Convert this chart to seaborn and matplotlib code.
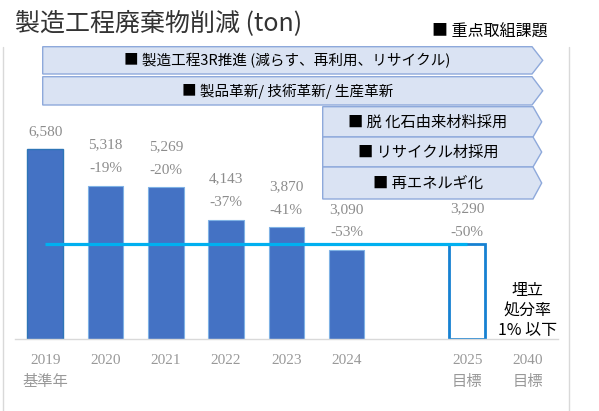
import matplotlib
matplotlib.use('Agg')
import matplotlib.pyplot as plt
import seaborn as sns
import pandas as pd
import numpy as np
from matplotlib.patches import Polygon
from matplotlib.lines import Line2D

sns.set_theme(style='white')
plt.rcParams['font.family'] = ['Noto Sans CJK JP', 'DejaVu Sans']

# ---------------- data ----------------
categories = ['2019\n基準年', '2020', '2021', '2022', '2023', '2024', ' ', '2025\n目標', '2040\n目標']
values = [6580, 5318, 5269, 4143, 3870, 3090, np.nan, 3290, np.nan]
pct_labels = ['', '-19%', '-20%', '-37%', '-41%', '-53%', '', '-50%', '']
base_category = '2019\n基準年'
target_category = '2025\n目標'
note_category = '2040\n目標'
target_value = 3290
title = '製造工程廃棄物削減 (ton)'
legend_label = '■ 重点取組課題'
banner_wide = ['■ 製造工程3R推進 (減らす、再利用、リサイクル)', '■ 製品革新/ 技術革新/ 生産革新']
banner_narrow = ['■ 脱 化石由来材料採用', '■ リサイクル材採用', '■ 再エネルギ化']
note_2040 = '埋立\n処分率\n1% 以下'

# ---------------- figure ----------------
W, H = 599, 411
fig = plt.figure(figsize=(W / 100, H / 100), dpi=100)
fig.patch.set_facecolor('white')


def fx(x):
    return x / W


def fy(y):
    return 1 - y / H


PX_PER_UNIT = 0.0289
ax_bottom_px, ax_top_px = 339.3, 47
ax = fig.add_axes([fx(15), fy(ax_bottom_px), (557.7 - 15) / W, (ax_bottom_px - ax_top_px) / H])
ax.set_facecolor('none')

df = pd.DataFrame({'cat': categories, 'val': values}).dropna()
sns.barplot(data=df, x='cat', y='val', order=categories, color='#4472C4',
            saturation=1, width=0.59, errorbar=None, ax=ax, zorder=2)

ax.set_xlim(-0.5, len(categories) - 0.5)
ax.set_ylim(0, (ax_bottom_px - ax_top_px) / PX_PER_UNIT)

serif = ['Liberation Serif', 'Noto Sans CJK JP']
i_target = categories.index(target_category)
for p in ax.patches:
    xc = p.get_x() + p.get_width() / 2
    if abs(xc - i_target) < 0.3:
        p.set_facecolor('white')
        p.set_edgecolor('#1681D2')
        p.set_linewidth(2)
    elif abs(xc - 0) < 0.3:
        p.set_edgecolor('#2E75B6')
        p.set_linewidth(1)
    else:
        p.set_edgecolor('#7FB2E5')
        p.set_linewidth(0.8)

# target line
i_base = categories.index(base_category)
ax.plot([i_base, i_target], [target_value, target_value], color='#00B0F0', lw=2.3,
        solid_capstyle='butt', zorder=3)

# value labels
for i, (v, pct) in enumerate(zip(values, pct_labels)):
    if np.isnan(v):
        continue
    shift = -5 if categories[i] == target_category else 0
    if pct:
        ax.annotate(pct, (i, v), xytext=(0, 17 + shift), textcoords='offset pixels',
                    ha='center', va='center', fontsize=11, color='#8C8C8C',
                    family=serif, zorder=4)
        ax.annotate(f'{v:,.0f}', (i, v), xytext=(0, 40.5 + shift), textcoords='offset pixels',
                    ha='center', va='center', fontsize=11, color='#8C8C8C',
                    family=serif, zorder=4)
    else:
        ax.annotate(f'{v:,.0f}', (i, v), xytext=(0, 17), textcoords='offset pixels',
                    ha='center', va='center', fontsize=11, color='#8C8C8C',
                    family=serif, zorder=4)

# 2040 note
ax.text(categories.index(note_category), 990, note_2040, ha='center', va='center',
        fontsize=11.5, linespacing=1.25, color='black')

# axes styling
ax.set_xticks(range(len(categories)))
ax.set_xticklabels(categories, family=serif, fontsize=11, color='#999999', linespacing=1.75)
ax.tick_params(axis='x', length=0, pad=10.5)
ax.set_yticks([])
ax.set_xlabel('')
ax.set_ylabel('')
for s in ['top', 'left', 'right']:
    ax.spines[s].set_visible(False)
ax.spines['bottom'].set_color('#D9D9D9')
ax.spines['bottom'].set_linewidth(1)

# frame lines
for xpix in (3.3, 569):
    fig.add_artist(Line2D([fx(xpix)] * 2, [fy(47), fy(411)], color='#D9D9D9', lw=1,
                          transform=fig.transFigure))


def banner(x0, x1, tip, y0, y1, text, size):
    pts = [(x0, y0), (x1, y0), (tip, (y0 + y1) / 2), (x1, y1), (x0, y1)]
    poly = Polygon([(fx(x), fy(y)) for x, y in pts], closed=True, transform=fig.transFigure,
                   facecolor='#DAE3F3', edgecolor='#8EA9DB', lw=1, zorder=5)
    fig.add_artist(poly)
    fig.text(fx((x0 + x1) / 2), fy((y0 + y1) / 2), text, ha='center', va='center',
             fontsize=size, color='black', zorder=6)


wide_rows = [(46.7, 74), (76.7, 105)]
for (y0, y1), t in zip(wide_rows, banner_wide):
    banner(42.7, 532, 542.7, y0, y1, t, 10.5)
narrow_rows = [(106.7, 137), (137, 167), (167, 199)]
for (y0, y1), t in zip(narrow_rows, banner_narrow):
    banner(322.7, 533, 541.7, y0, y1, t, 11)

fig.text(fx(15), fy(23), title, ha='left', va='center', fontsize=18, color='#333333')
fig.text(fx(489.5), fy(32), legend_label, ha='center', va='center', fontsize=11.5, color='black')

fig.savefig('out.png', dpi=100)
